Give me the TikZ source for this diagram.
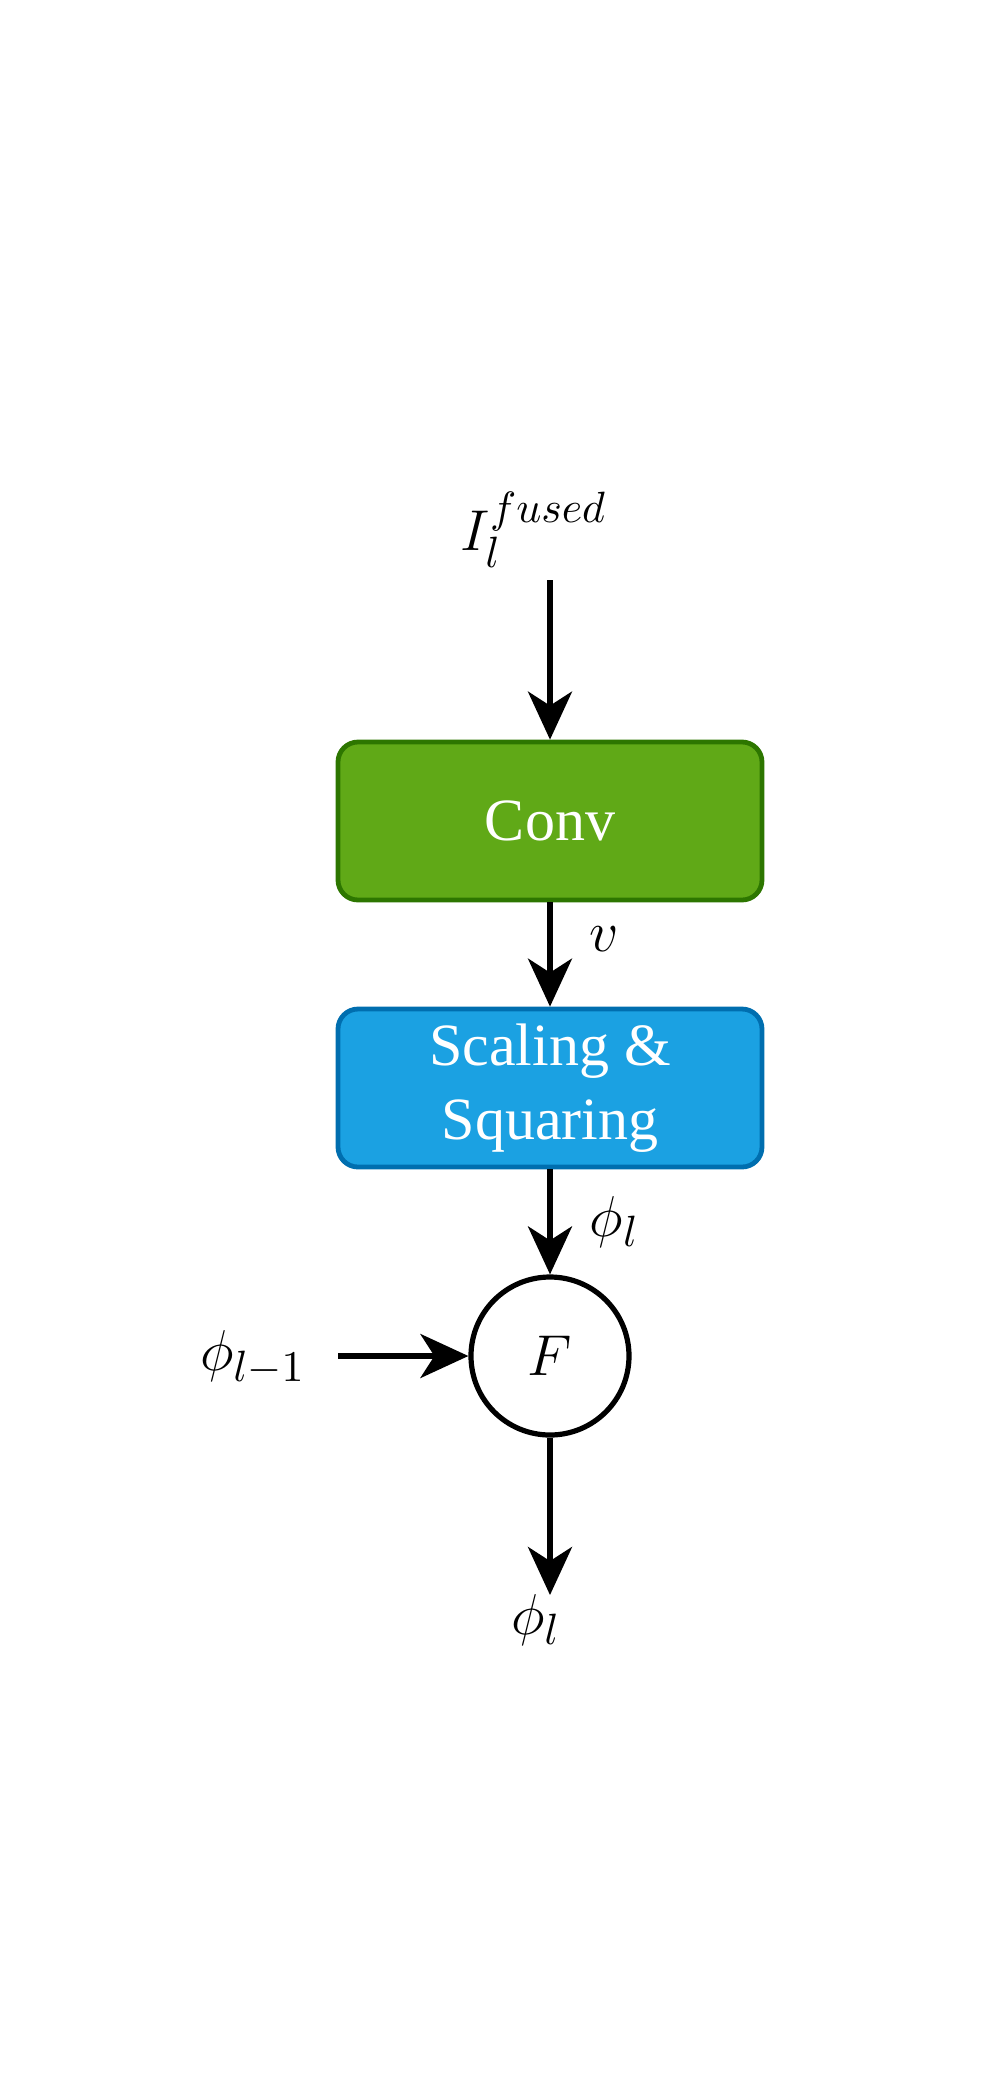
\documentclass[tikz,border=0pt]{standalone}
\usepackage{fontspec}
\setmainfont{Liberation Serif}
\usetikzlibrary{arrows.meta}
\definecolor{convgreen}{HTML}{60A917}
\definecolor{convgreenline}{HTML}{2D7600}
\definecolor{ssblue}{HTML}{1BA1E2}
\definecolor{ssblueline}{HTML}{006EAF}

\begin{document}
\begin{tikzpicture}[%
  x=0.25pt, y=-0.25pt,
  blk/.style={rounded corners=5pt, line width=1.2pt, minimum width=106pt,
    minimum height=39.5pt, text=white, align=center,
    font=\fontsize{15}{18.5}\selectfont},
  convblk/.style={blk, fill=convgreen, draw=convgreenline},
  ssblk/.style={blk, fill=ssblue, draw=ssblueline},
  fuseop/.style={circle, draw, line width=1.3pt, minimum size=39.5pt,
    font=\fontsize{15.5}{18}\selectfont},
  arr/.style={-{Stealth[length=12pt,width=11pt,inset=3.5pt]}, line width=1.3pt},
  mlabel/.style={font=\fontsize{15}{18}\selectfont}]
\useasboundingbox (0,0) rectangle (1005,2100);

\node[mlabel] (ifused) at (534,530) {$I_l^{fused}$};
\coordinate (intop) at (550,580);
\node[convblk] (conv) at (550,821) {Conv};
\node[ssblk] (scal) at (550,1088) {Scaling \&\\Squaring};
\node[fuseop] (fuse) at (550,1356) {$F$};
\node[mlabel] (phiprev) at (253,1358) {$\phi_{l-1}$};
\coordinate (prevend) at (338,1356);
\coordinate (outend) at (550,1595);
\node[mlabel] (phiout) at (536,1620) {$\phi_l$};

\draw[arr] (intop) -- (conv.north);
\draw[arr] (conv.south) -- node[mlabel, right=6pt, pos=0.35] (vlab) {$v$} (scal.north);
\draw[arr] (scal.south) -- node[mlabel, right=6pt, pos=0.5] (philab) {$\phi_l$} (fuse.north);
\draw[arr] (prevend) -- (fuse.west);
\draw[arr] (fuse.south) -- (outend);
\end{tikzpicture}
\end{document}
